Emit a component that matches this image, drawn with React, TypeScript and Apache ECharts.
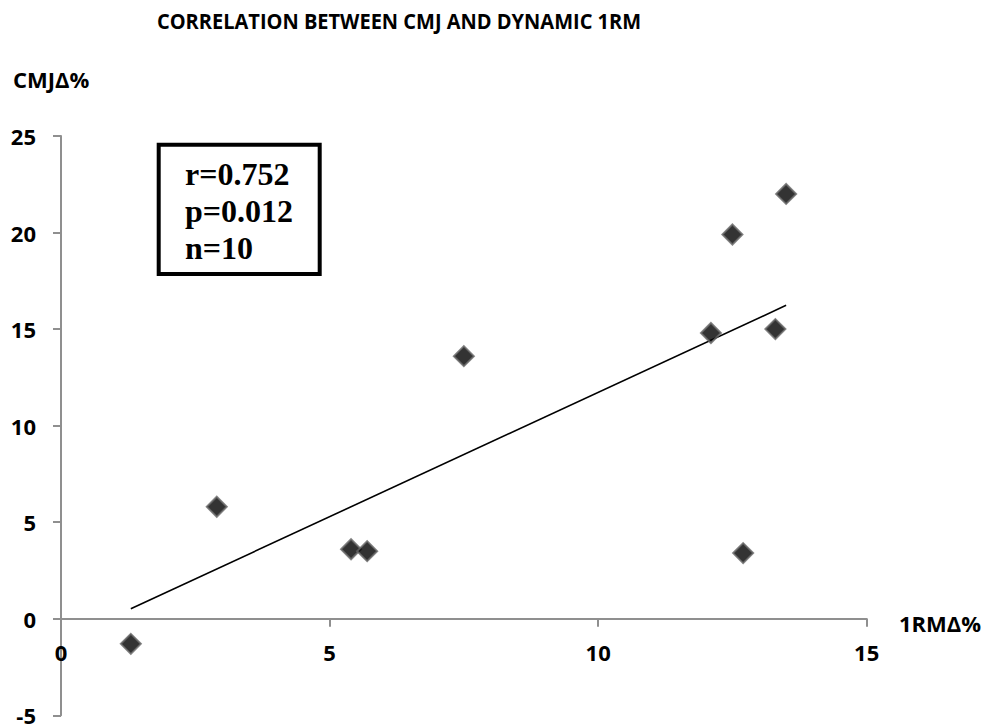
import React, { useEffect, useRef } from "react";
import * as echarts from "echarts";

const xValues = [1.3, 2.9, 5.4, 5.7, 7.5, 12.1, 12.5, 12.7, 13.3, 13.5];
const yValues = [-1.3, 5.8, 3.6, 3.5, 13.6, 14.8, 19.9, 3.4, 15.0, 22.0];
const trendX = [1.3, 13.5];
const trendY = [0.52, 16.23];
const statLines = ["r=0.752", "p=0.012", "n=10"];
const titleText = "CORRELATION BETWEEN CMJ AND DYNAMIC 1RM";
const yName = "CMJΔ%";
const xName = "1RMΔ%";

const SANS = "'Open Sans', 'Liberation Sans', sans-serif";
const SERIF = "'Liberation Serif', 'DejaVu Serif', serif";

const Y_MIN = -5;
const Y_MAX = 25;
const GRID_H = 579.3;

export default function App() {
  const ref = useRef<HTMLDivElement>(null);
  useEffect(() => {
    if (!ref.current) return;
    const chart = echarts.init(ref.current, null, { renderer: "svg" });
    const axisColor = "#8f8f8f";
    // shift the x axis up from the grid bottom to the y = 0 line
    const zeroOffset = -((0 - Y_MIN) / (Y_MAX - Y_MIN)) * GRID_H;
    const option: any = {
      animation: false,
      backgroundColor: "#ffffff",
      grid: {
        left: 61,
        top: 136,
        width: 805.7,
        height: GRID_H,
        containLabel: false,
        outerBoundsMode: "none",
      },
      xAxis: {
        type: "value",
        position: "bottom",
        offset: zeroOffset,
        min: 0,
        max: 15,
        interval: 5,
        axisLine: { show: true, onZero: false, lineStyle: { color: axisColor, width: 2 } },
        axisTick: { show: true, inside: false, length: 8, lineStyle: { color: axisColor, width: 2 } },
        splitLine: { show: false },
        axisLabel: {
          margin: 22,
          color: "#000",
          fontFamily: SANS,
          fontWeight: "bold",
          fontSize: 22,
          showMinLabel: true,
          showMaxLabel: true,
        },
      },
      yAxis: {
        type: "value",
        min: Y_MIN,
        max: Y_MAX,
        interval: 5,
        axisLine: { show: true, onZero: false, lineStyle: { color: axisColor, width: 2 } },
        axisTick: { show: true, inside: false, length: 8, lineStyle: { color: axisColor, width: 2 } },
        splitLine: { show: false },
        axisLabel: {
          margin: 25,
          color: "#000",
          fontFamily: SANS,
          fontWeight: "bold",
          fontSize: 22,
        },
      },
      series: [
        {
          type: "line",
          data: trendX.map((x, i) => [x, trendY[i]]),
          showSymbol: false,
          symbol: "none",
          lineStyle: { color: "#000", width: 1.6 },
          silent: true,
          z: 2,
        },
        {
          type: "scatter",
          data: xValues.map((x, i) => [x, yValues[i]]),
          symbol: "diamond",
          symbolSize: [20, 20],
          itemStyle: { color: "#000", borderColor: "#666666", borderWidth: 2 },
          z: 3,
        },
      ],
      graphic: [
        {
          type: "text",
          x: 399,
          y: 20.5,
          scaleX: 0.91,
          originX: 0,
          style: {
            text: titleText,
            fill: "#000",
            font: `bold 22px ${SANS}`,
            align: "center",
            verticalAlign: "middle",
          },
        },
        {
          type: "text",
          x: 13,
          y: 78.5,
          style: {
            text: yName,
            fill: "#000",
            font: `bold 22px ${SANS}`,
            align: "left",
            verticalAlign: "middle",
          },
        },
        {
          type: "text",
          x: 899,
          y: 622.7,
          style: {
            text: xName,
            fill: "#000",
            font: `bold 22px ${SANS}`,
            align: "left",
            verticalAlign: "middle",
          },
        },
        {
          type: "rect",
          shape: { x: 158.7, y: 144.7, width: 161, height: 129.3 },
          style: { fill: "#fff", stroke: "#000", lineWidth: 4 },
          z: 10,
        },
        ...statLines.map((t, i) => ({
          type: "text",
          x: 185,
          y: 174 + i * 37,
          z: 11,
          style: {
            text: t,
            fill: "#000",
            font: `bold 32px ${SERIF}`,
            align: "left",
            verticalAlign: "middle",
          },
        })),
      ],
    };
    chart.setOption(option);
    return () => chart.dispose();
  }, []);
  return (
    <div
      ref={ref}
      style={{ position: "fixed", left: 0, top: 0, width: 996, height: 726, background: "#fff" }}
    />
  );
}
